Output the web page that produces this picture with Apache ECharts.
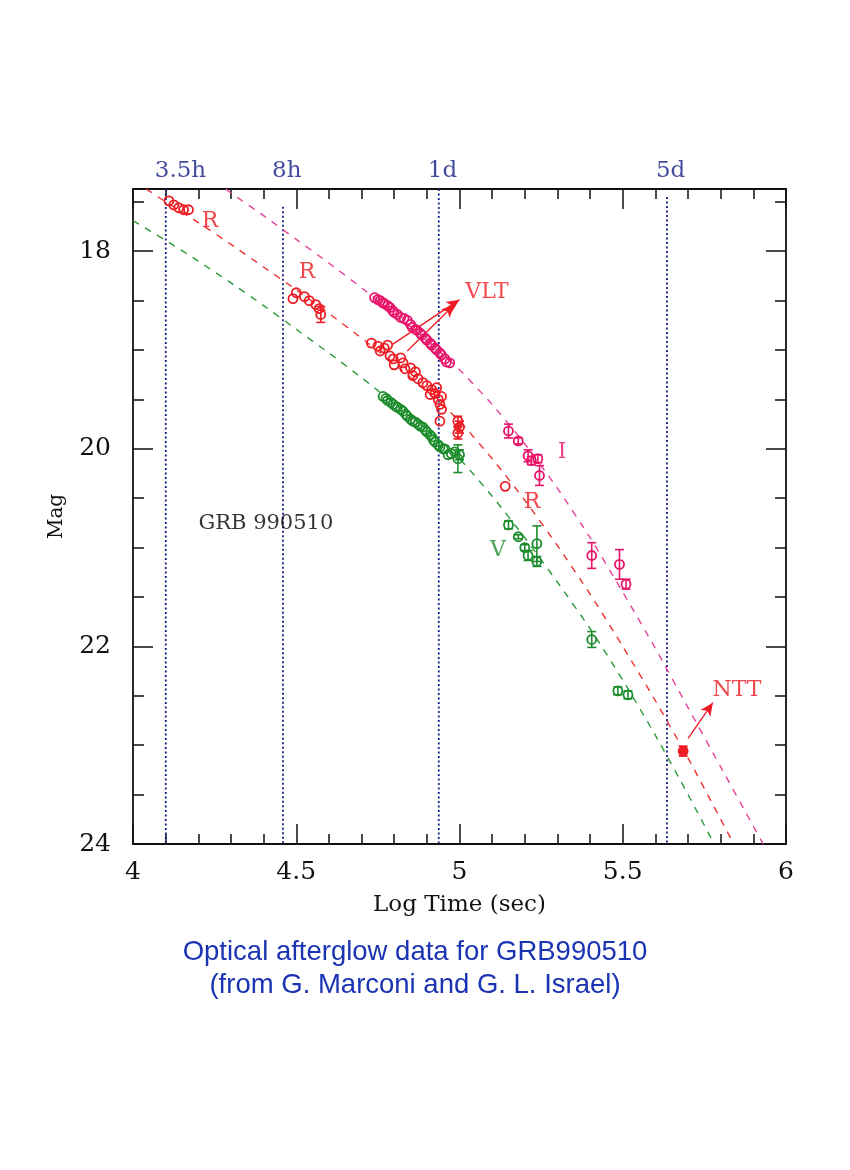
<!DOCTYPE html>
<html>
<head>
<meta charset="utf-8">
<script src="https://cdn.jsdelivr.net/npm/echarts@6/dist/echarts.min.js"></script>
<style>
html,body{margin:0;padding:0;background:#fff;}
#chart{width:850px;height:1170px;}
</style>
</head>
<body>
<div id="chart"></div>
<script>
// ---------- data (log time [s], magnitude, error) ----------
const xTickLabels = [4, 4.5, 5, 5.5, 6];
const yTickLabels = [18, 20, 22, 24];
const yMinorTicks = [17.5, 18.5, 19, 19.5, 20.5, 21, 21.5, 22.5, 23, 23.5];

const rData = [
  [4.11,17.49,0],[4.125,17.53,0],[4.14,17.56,0],[4.155,17.58,0],[4.17,17.58,0],
  [4.49,18.48,0],[4.50,18.42,0],[4.525,18.46,0],[4.54,18.50,0],[4.56,18.54,0],[4.57,18.58,0],[4.575,18.64,0.08],
  [4.73,18.93,0],[4.75,18.96,0],[4.757,19.01,0],[4.77,18.98,0],[4.78,18.95,0],[4.787,19.06,0],[4.797,19.09,0],
  [4.80,19.15,0],[4.82,19.08,0],[4.827,19.13,0],[4.833,19.19,0],[4.85,19.18,0],[4.857,19.26,0],[4.865,19.22,0],
  [4.873,19.29,0],[4.888,19.33,0],[4.90,19.36,0],[4.91,19.45,0],[4.915,19.40,0],[4.925,19.44,0],[4.93,19.38,0],
  [4.935,19.50,0],[4.94,19.55,0],[4.945,19.47,0],[4.945,19.60,0],[4.94,19.72,0],
  [4.995,19.72,0.05],[5.0,19.78,0.06],[4.995,19.84,0.06],
  [5.14,20.38,0]
];
const rNttData = [[5.685,23.06,0.05]];

const iData = [
  [4.74,18.47,0],[4.75,18.49,0],[4.757,18.50,0],[4.765,18.52,0],[4.77,18.53,0],[4.78,18.55,0],[4.787,18.57,0],
  [4.795,18.60,0],[4.80,18.62,0],[4.81,18.64,0],[4.82,18.67,0],[4.83,18.68,0],[4.84,18.70,0],[4.85,18.74,0],
  [4.855,18.77,0],[4.865,18.79,0],[4.87,18.80,0],[4.88,18.83,0],[4.885,18.85,0],[4.895,18.88,0],[4.90,18.90,0],
  [4.91,18.93,0],[4.915,18.95,0],[4.925,18.98,0],[4.93,19.00,0],[4.94,19.03,0],[4.945,19.05,0],[4.955,19.09,0],
  [4.96,19.12,0],[4.97,19.13,0],
  [5.15,19.82,0.07],[5.18,19.92,0.03],[5.21,20.07,0.06],[5.22,20.12,0.04],[5.24,20.10,0.04],[5.245,20.27,0.10],
  [5.405,21.08,0.13],[5.49,21.17,0.15],[5.51,21.37,0.05]
];

const vData = [
  [4.766,19.47,0],[4.775,19.49,0],[4.78,19.51,0],[4.79,19.53,0],[4.797,19.55,0],[4.805,19.57,0],[4.81,19.58,0],
  [4.82,19.60,0],[4.827,19.62,0],[4.835,19.65,0],[4.84,19.67,0],[4.85,19.70,0],[4.857,19.72,0],[4.865,19.73,0],
  [4.873,19.75,0],[4.88,19.77,0],[4.888,19.78,0],[4.895,19.81,0],[4.90,19.83,0],[4.91,19.86,0],[4.915,19.88,0],
  [4.92,19.91,0],[4.925,19.93,0],[4.935,19.96,0],[4.94,19.98,0],[4.95,20.00,0],[4.955,20.00,0],[4.965,20.06,0],
  [4.975,20.05,0],[4.985,20.03,0],[4.995,20.10,0.14],[5.0,20.06,0.05],
  [5.15,20.77,0.04],[5.18,20.89,0.02],[5.20,21.00,0.03],[5.237,20.96,0.18],[5.21,21.08,0.05],[5.237,21.14,0.05],
  [5.405,21.93,0.08],[5.485,22.45,0.04],[5.516,22.49,0.04]
];

const vCurve = [[4.0,17.69],[4.1,17.89],[4.2,18.10],[4.3,18.32],[4.4,18.55],[4.5,18.79],[4.6,19.03],[4.7,19.28],
  [4.8,19.54],[4.9,19.81],[5.0,20.10],[5.1,20.48],[5.2,20.90],[5.3,21.35],[5.4,21.82],[5.5,22.34],[5.6,22.90],[5.7,23.50],[5.78,24.0]];
const rCurve = [[4.04,17.37],[4.1,17.50],[4.2,17.71],[4.3,17.93],[4.4,18.16],[4.5,18.39],[4.6,18.63],[4.7,18.88],
  [4.8,19.14],[4.9,19.42],[5.0,19.72],[5.1,20.10],[5.2,20.52],[5.3,20.98],[5.4,21.47],[5.5,22.00],[5.6,22.55],[5.7,23.13],[5.8,23.75],[5.84,24.0]];
const iCurve = [[4.285,17.37],[4.3,17.41],[4.4,17.64],[4.5,17.88],[4.6,18.12],[4.7,18.37],[4.8,18.63],[4.9,18.90],
  [5.0,19.20],[5.1,19.55],[5.2,19.95],[5.3,20.40],[5.4,20.90],[5.5,21.45],[5.6,22.02],[5.7,22.62],[5.8,23.22],[5.9,23.82],[5.93,24.0]];

// reference epochs: log10 of 3.5 h, 8 h, 1 d, 5 d
const epochX = [4.1004, 4.4594, 4.9365, 5.6355];
const epochLabels = ['3.5h', '8h', '1d', '5d'];
const epochStart = [17.37, 17.55, 17.37, 17.45];

const notes = [
  {x:4.236, y:17.70, text:'R', band:'R'},
  {x:4.533, y:18.21, text:'R', band:'R'},
  {x:5.084, y:18.42, text:'VLT', band:'R'},
  {x:5.314, y:20.03, text:'I', band:'I'},
  {x:5.222, y:20.54, text:'R', band:'R'},
  {x:5.118, y:21.03, text:'V', band:'V'},
  {x:5.85,  y:22.44, text:'NTT', band:'R'},
  {x:4.407, y:20.76, text:'GRB 990510', band:'K'}
];
const arrows = [
  [[4.796,18.94],[5.0,18.49]],
  [[4.84,19.01],[4.985,18.54]],
  [[5.70,22.93],[5.776,22.57]]
];

// ---------- styling ----------
const X_MIN = 4, X_MAX = 6, Y_MIN = 17.37, Y_MAX = 24;
const COL = {R:'#ee1c24', I:'#e8146a', V:'#1c8c2c', K:'#000000'};
const CURVE = {R:'#ee3030', I:'#e8409a', V:'#2a9a3a'};
const EPOCH = '#121e86';
const SERIF = '"DejaVu Serif", "Liberation Serif", serif';

function pointRenderer(color, filled) {
  return function (params, api) {
    const x = api.value(0), y = api.value(1), e = api.value(2);
    const c = api.coord([x, y]);
    const kids = [];
    if (e > 0) {
      const t = api.coord([x, y - e]), b = api.coord([x, y + e]);
      const st = {stroke: color, lineWidth: 1.6};
      kids.push({type:'line', shape:{x1:c[0], y1:t[1], x2:c[0], y2:b[1]}, style: st});
      kids.push({type:'line', shape:{x1:c[0]-4.5, y1:t[1], x2:c[0]+4.5, y2:t[1]}, style: st});
      kids.push({type:'line', shape:{x1:c[0]-4.5, y1:b[1], x2:c[0]+4.5, y2:b[1]}, style: st});
    }
    kids.push({type:'circle', shape:{cx:c[0], cy:c[1], r:4.5},
      style:{fill: filled ? color : 'rgba(255,255,255,0)', stroke: color, lineWidth: 1.8}});
    return {type:'group', children: kids};
  };
}
function pointSeries(data, color, filled) {
  return {type:'custom', renderItem: pointRenderer(color, filled), data: data,
    encode:{x:0, y:1}, clip:false, z:5};
}
function curveSeries(data, color) {
  return {type:'line', data: data, showSymbol:false, symbol:'none', smooth:0.2,
    lineStyle:{color: color, width:1.4, type:[7,7]}, z:3, silent:true};
}

const series = [];
// epoch lines
epochX.forEach((x, i) => {
  series.push({type:'line', data:[[x, epochStart[i]], [x, Y_MAX]], symbol:'none',
    lineStyle:{color: EPOCH, width:1.8, type:[2,2.5]}, z:2, silent:true});
});
series.push({type:'scatter', data: epochX.map((x, i) => ({value:[x, Y_MIN], name: epochLabels[i]})),
  symbolSize:0, clip:false, silent:true,
  label:{show:true, position:'top', distance:6, align:'left', offset:[-11,0],
    formatter: p => p.name, color: EPOCH, fontFamily: SERIF, fontSize: 23}});
// model curves
series.push(curveSeries(vCurve, CURVE.V));
series.push(curveSeries(rCurve, CURVE.R));
series.push(curveSeries(iCurve, CURVE.I));
// data
series.push(pointSeries(vData, COL.V, false));
series.push(pointSeries(rData, COL.R, false));
series.push(pointSeries(iData, COL.I, false));
series.push(pointSeries(rNttData, COL.R, true));
// annotations
series.push({type:'scatter', symbolSize:0, clip:false, silent:true, z:6,
  data: notes.map(n => ({value:[n.x, n.y], name:n.text,
    label:{color: COL[n.band], fontSize: n.band === 'K' ? 21 : 22}})),
  label:{show:true, position:'inside', formatter: p => p.name, fontFamily: SERIF},
  markLine:{silent:true, symbol:['none','arrow'], symbolSize:[9,13],
    lineStyle:{color: COL.R, width:1.3, type:'solid'}, label:{show:false},
    data: arrows.map(a => [{coord:a[0]}, {coord:a[1]}])}
});

const axisLine = {show:true, onZero:false, lineStyle:{color:'#111', width:1.8}};
const tickStyle = {color:'#111', width:1.5};

const option = {
  animation:false,
  backgroundColor:'#ffffff',
  grid:{left:133, right:64, top:189, bottom:326, containLabel:false},
  xAxis:[
    {type:'value', position:'bottom', min:X_MIN, max:X_MAX, interval:0.5,
     axisLine: axisLine, splitLine:{show:false},
     axisTick:{show:true, inside:true, length:20, lineStyle: tickStyle},
     minorTick:{show:true, splitNumber:5, length:10, lineStyle: tickStyle},
     axisLabel:{show:true, margin:16, color:'#111', fontFamily: SERIF, fontSize:25,
       customValues: xTickLabels, formatter: v => String(v)},
     name:'Log Time (sec)', nameLocation:'middle', nameGap:50,
     nameTextStyle:{color:'#111', fontFamily: SERIF, fontSize:23}},
    {type:'value', position:'top', min:X_MIN, max:X_MAX, interval:0.5,
     axisLine: axisLine, splitLine:{show:false},
     axisTick:{show:true, inside:true, length:20, lineStyle: tickStyle},
     minorTick:{show:true, splitNumber:5, length:10, lineStyle: tickStyle},
     axisLabel:{show:false}}
  ],
  yAxis:[
    {type:'value', position:'left', inverse:true, min:Y_MIN, max:Y_MAX,
     axisLine: axisLine, splitLine:{show:false},
     axisTick:{show:true, inside:true, length:20, lineStyle: tickStyle, customValues: yTickLabels},
     axisLabel:{show:true, margin:22, color:'#111', fontFamily: SERIF, fontSize:25,
       customValues: yTickLabels, formatter: v => String(v)},
     name:'Mag', nameLocation:'middle', nameGap:66, nameRotate:90,
     nameTextStyle:{color:'#111', fontFamily: SERIF, fontSize:20}},
    {type:'value', position:'left', inverse:true, min:Y_MIN, max:Y_MAX,
     axisLine:{show:false}, splitLine:{show:false}, axisLabel:{show:false},
     axisTick:{show:true, inside:true, length:11, lineStyle: tickStyle, customValues: yMinorTicks}},
    {type:'value', position:'right', inverse:true, min:Y_MIN, max:Y_MAX,
     axisLine: axisLine, splitLine:{show:false}, axisLabel:{show:false},
     axisTick:{show:true, inside:true, length:20, lineStyle: tickStyle, customValues: yTickLabels}},
    {type:'value', position:'right', inverse:true, min:Y_MIN, max:Y_MAX,
     axisLine:{show:false}, splitLine:{show:false}, axisLabel:{show:false},
     axisTick:{show:true, inside:true, length:11, lineStyle: tickStyle, customValues: yMinorTicks}}
  ],
  graphic:[
    {type:'text', x:415, y:936, style:{
      text:'Optical afterglow data for GRB990510\n(from G. Marconi and G. L. Israel)',
      fill:'#1b34b4', font:'27.5px "Liberation Sans", Arial, sans-serif', lineHeight:33, align:'center'}}
  ],
  series: series
};

const chart = echarts.init(document.getElementById('chart'), null, {renderer:'canvas'});
chart.setOption(option);
</script>
</body>
</html>
